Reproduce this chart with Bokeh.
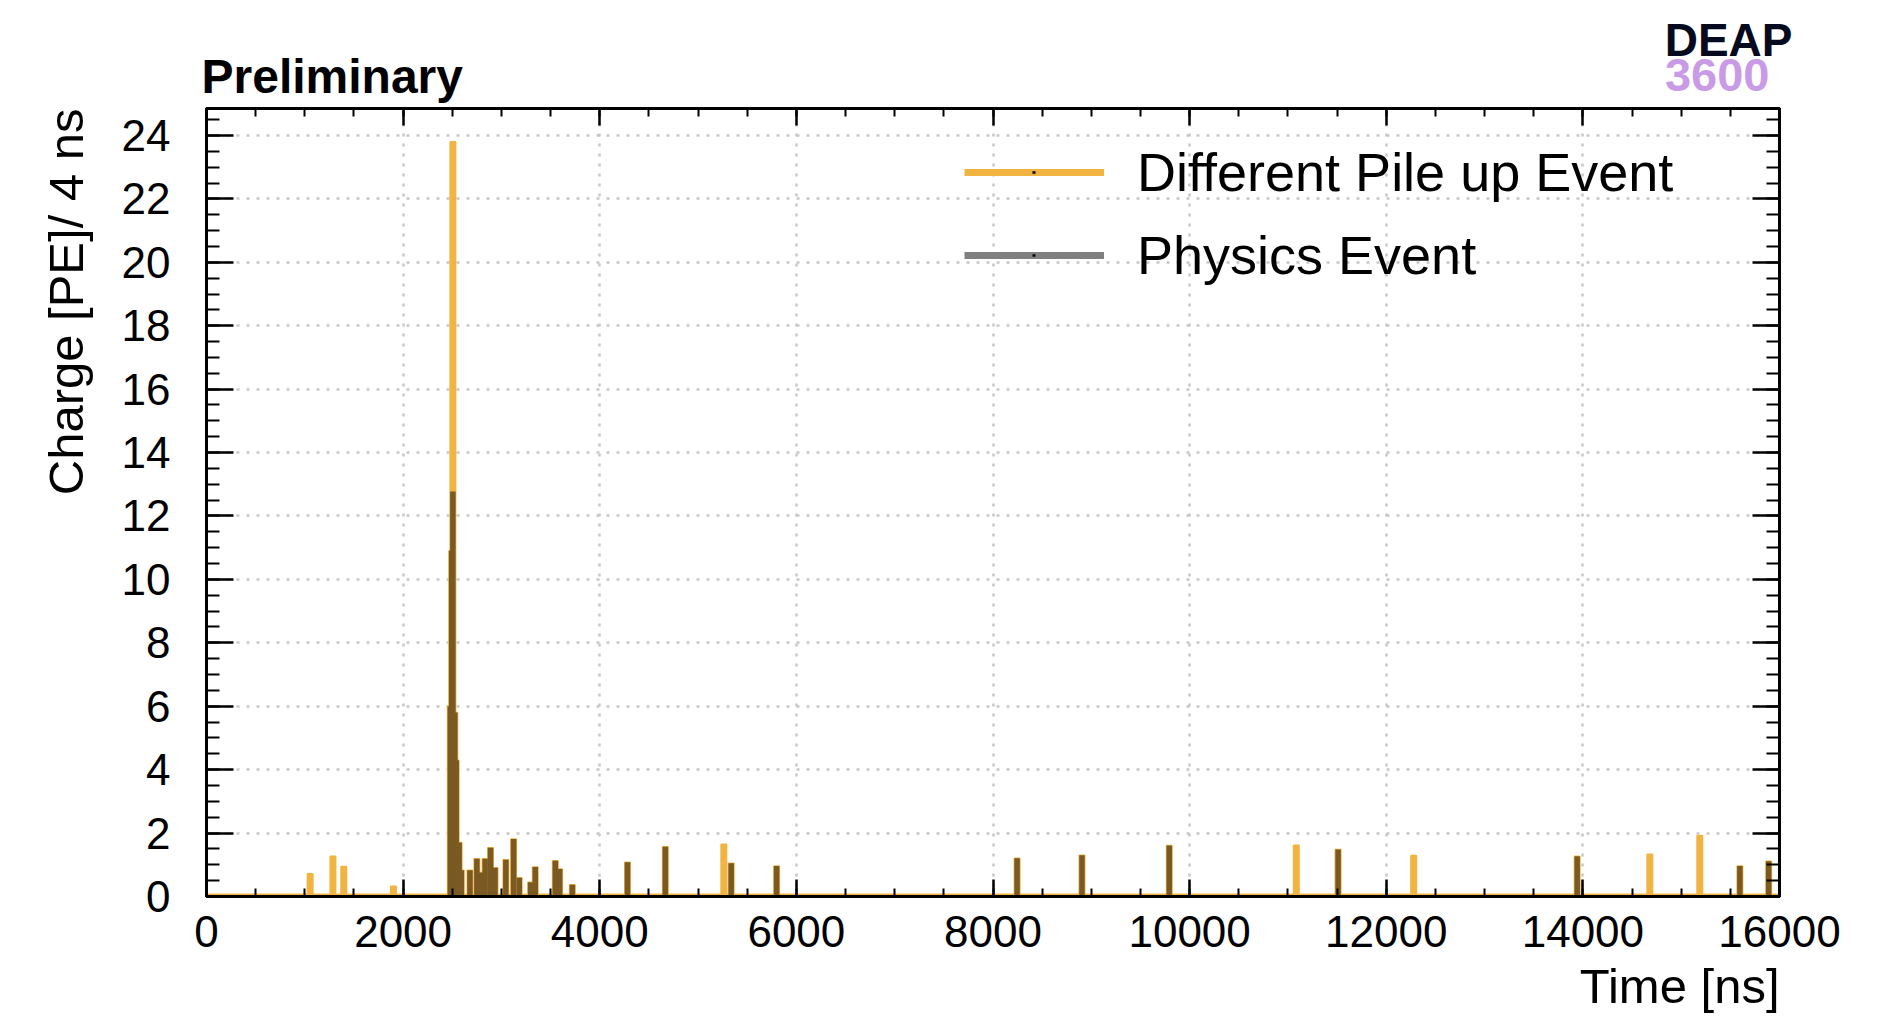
import math
from bokeh.plotting import figure
from bokeh.models import (Range1d, LinearAxis, SingleIntervalTicker, Legend, LegendItem,
                          Span, ColumnDataSource, CustomJSTickFormatter, Title)
from bokeh.embed import file_html
from bokeh.resources import INLINE

# ---- data (bin centre in ns, charge in PE / 4 ns) ----
time_ns = [1054, 1286, 1396, 1901,
           2480, 2494, 2506, 2526, 2540, 2570, 2592,
           2680, 2750, 2798, 2834, 2889, 2935, 3045, 3124, 3181, 3297, 3344,
           3548, 3592, 3721, 4282, 4667, 5262, 5337, 5799,
           8245, 8905, 9793, 11085, 11510, 12279, 13942, 14681, 15189, 15597, 15890]
pileup_pe = [0.72, 1.27, 0.95, 0.32,
             6.0, 10.9, 23.8, 5.8, 4.3, 1.7, 0.83,
             0.83, 1.19, 0.76, 1.19, 1.54, 0.91, 1.16, 1.81, 0.59, 0.45, 0.93,
             1.13, 0.87, 0.37, 1.08, 1.57, 1.65, 1.05, 0.96,
             1.21, 1.30, 1.61, 1.62, 1.48, 1.29, 1.27, 1.33, 1.92, 0.96, 1.11]
physics_pe = [0, 0, 0, 0,
              6.0, 10.9, 12.77, 5.8, 4.3, 1.7, 0.83,
              0.83, 1.19, 0.76, 1.19, 1.54, 0.91, 1.16, 1.81, 0.59, 0.45, 0.93,
              1.13, 0.87, 0.37, 1.08, 1.57, 0, 1.05, 0.96,
              1.21, 1.30, 1.61, 0, 1.48, 0, 1.27, 0, 0, 0.96, 1.11]

series_labels = ["Different Pile up Event", "Physics Event"]
x_title = "Time [ns]"
y_title = "Charge [PE]/ 4 ns"

FONT = "Liberation Sans"
ORANGE = "#f1b441"
BROWN = "#7a5a22"
GRAY = "#808080"

p = figure(width=1896, height=1019, output_backend="svg", toolbar_location=None,
           x_range=Range1d(0, 16000), y_range=Range1d(0, 24.85),
           min_border_left=206, min_border_right=117, min_border_top=108,
           min_border_bottom=122, background_fill_color="white",
           border_fill_color="white")

xt = SingleIntervalTicker(interval=2000, num_minor_ticks=4)
yt = SingleIntervalTicker(interval=2, num_minor_ticks=4)

# grids
p.xgrid.ticker = xt
p.ygrid.ticker = yt
for g in (p.xgrid, p.ygrid):
    g.grid_line_color = "#c8c8c8"
    g.grid_line_dash = "3 7"
    g.grid_line_width = 2.5

# histogram baseline
p.add_layout(Span(location=0, dimension="width", line_color=ORANGE, line_width=6,
                  level="underlay"))

src = ColumnDataSource(dict(t=time_ns, pile=pileup_pe, phys=physics_pe))
p.vbar(x="t", top="pile", bottom=0, width=56, source=src,
       fill_color=ORANGE, line_color=ORANGE, line_width=1.5)
p.vbar(x="t", top="phys", bottom=0, width=56, source=src,
       fill_color=BROWN, line_color=None)

# axes
def style_axis(ax, major_in, minor_in, size="44px"):
    ax.axis_line_width = 3
    ax.axis_line_color = "black"
    ax.major_tick_in = major_in
    ax.major_tick_out = 0
    ax.minor_tick_in = minor_in
    ax.minor_tick_out = 0
    ax.major_tick_line_width = 2.5
    ax.minor_tick_line_width = 2
    ax.major_tick_line_color = "black"
    ax.minor_tick_line_color = "black"
    ax.major_label_text_font = FONT
    ax.major_label_text_font_size = size
    ax.major_label_text_color = "black"
    ax.axis_label = None

xa = p.xaxis[0]
xa.ticker = xt
style_axis(xa, 17, 8)
xa.major_label_standoff = 19

ya = p.yaxis[0]
ya.ticker = yt
style_axis(ya, 27, 13)
ya.major_label_standoff = 36

blank = CustomJSTickFormatter(code="return ''")
top_ax = LinearAxis(ticker=xt, formatter=blank)
style_axis(top_ax, 17, 8, "1px")
top_ax.major_label_standoff = 0
p.add_layout(top_ax, "above")
right_ax = LinearAxis(ticker=yt, formatter=blank)
style_axis(right_ax, 27, 13, "1px")
right_ax.major_label_standoff = 0
p.add_layout(right_ax, "right")

p.outline_line_color = "black"
p.outline_line_width = 3

# titles around the frame (rows stack outward from the frame)
p.add_layout(Title(text="3600", align="right", text_font=FONT, offset=10,
                   text_font_style="bold", text_font_size="47px", text_color="#c99be6",
                   standoff=36), "above")
p.add_layout(Title(text="DEAP", align="right", vertical_align="bottom", text_font=FONT,
                   offset=-13, text_font_style="bold", text_font_size="46px",
                   text_color="#050a1e", standoff=-54), "above")
p.add_layout(Title(text="Preliminary", align="left", vertical_align="bottom",
                   text_font=FONT, offset=-5, text_font_style="bold",
                   text_font_size="48px", text_color="black", standoff=-128), "above")
p.add_layout(Title(text=x_title, align="right", text_font=FONT, text_font_style="normal",
                   text_font_size="49px", text_color="black", standoff=14), "below")
p.add_layout(Title(text=y_title, align="right", text_font=FONT, text_font_style="normal",
                   text_font_size="49px", text_color="black", standoff=52), "left")

# legend (line glyph with a small central dot, ROOT style)
nan = float("nan")
r1 = p.line(x=[nan, nan], y=[nan, nan], line_color=ORANGE, line_width=7)
r1d = p.line(x=[nan, nan], y=[nan, nan], line_color="black", line_width=2.5,
             line_dash="0 68 3 69")
r2 = p.line(x=[nan, nan], y=[nan, nan], line_color=GRAY, line_width=7)
r2d = p.line(x=[nan, nan], y=[nan, nan], line_color="black", line_width=2.5,
             line_dash="0 68 3 69")
legend = Legend(items=[LegendItem(label=series_labels[0], renderers=[r1, r1d]),
                       LegendItem(label=series_labels[1], renderers=[r2, r2d])],
                location=(758, 606), label_text_font=FONT, label_text_font_size="54px",
                label_text_color="black",
                glyph_width=140, glyph_height=70, label_height=70, label_standoff=33,
                spacing=13, padding=0, margin=0, border_line_alpha=0,
                background_fill_alpha=0)
p.add_layout(legend)

open("out.html", "w").write(file_html(p, INLINE))
